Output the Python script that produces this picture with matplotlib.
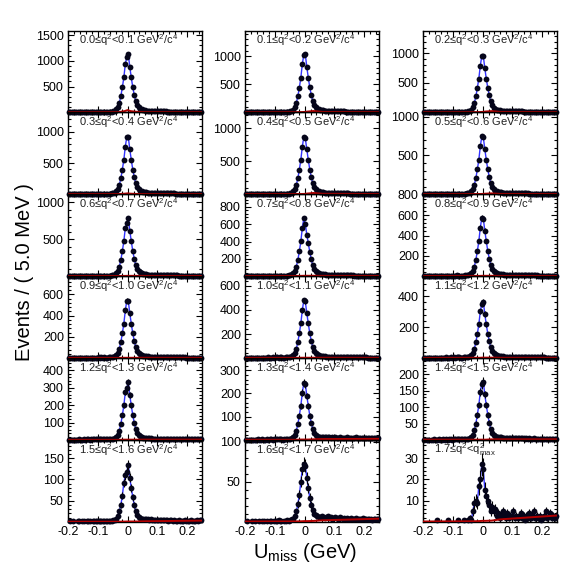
import numpy as np
import matplotlib
matplotlib.use("Agg")
import matplotlib.pyplot as plt
from matplotlib.ticker import AutoMinorLocator, MultipleLocator

plt.rcParams['font.family'] = ['Liberation Sans', 'DejaVu Sans']
plt.rcParams['mathtext.fontset'] = 'custom'
plt.rcParams['mathtext.rm'] = 'Liberation Sans'
plt.rcParams['mathtext.it'] = 'Liberation Sans:italic'

# bin centres of U_miss, 5 MeV bins from -0.2 to 0.25 GeV
u_bins = np.linspace(-0.1975, 0.2475, 90)

q2_labels = [
    r"0.0≤q$^2$<0.1 GeV$^2$/c$^4$", r"0.1≤q$^2$<0.2 GeV$^2$/c$^4$", r"0.2≤q$^2$<0.3 GeV$^2$/c$^4$",
    r"0.3≤q$^2$<0.4 GeV$^2$/c$^4$", r"0.4≤q$^2$<0.5 GeV$^2$/c$^4$", r"0.5≤q$^2$<0.6 GeV$^2$/c$^4$",
    r"0.6≤q$^2$<0.7 GeV$^2$/c$^4$", r"0.7≤q$^2$<0.8 GeV$^2$/c$^4$", r"0.8≤q$^2$<0.9 GeV$^2$/c$^4$",
    r"0.9≤q$^2$<1.0 GeV$^2$/c$^4$", r"1.0≤q$^2$<1.1 GeV$^2$/c$^4$", r"1.1≤q$^2$<1.2 GeV$^2$/c$^4$",
    r"1.2≤q$^2$<1.3 GeV$^2$/c$^4$", r"1.3≤q$^2$<1.4 GeV$^2$/c$^4$", r"1.4≤q$^2$<1.5 GeV$^2$/c$^4$",
    r"1.5≤q$^2$<1.6 GeV$^2$/c$^4$", r"1.6≤q$^2$<1.7 GeV$^2$/c$^4$", r"1.7≤q$^2$<q$^2_{\rm max}$",
]

y_tops = [1590, 1460, 1390, 1310, 1240, 1055, 1110, 945, 805,
          770, 680, 530, 470, 352, 250, 193, 102, 38.5]
y_ticks = [
    [500, 1000, 1500], [500, 1000], [500, 1000],
    [500, 1000], [500, 1000], [500, 1000],
    [500, 1000], [200, 400, 600, 800], [200, 400, 600, 800],
    [200, 400, 600], [200, 400, 600], [200, 400],
    [100, 200, 300, 400], [100, 200, 300], [50, 100, 150, 200],
    [50, 100, 150], [50, 100], [10, 20, 30],
]

# events per bin
c_r1c1 = [6, 5, 7, 6, 5, 8, 6, 7, 5, 6, 7, 8, 6, 7, 9, 8, 7, 9, 8, 10, 9, 8, 10, 9, 11,
          9, 10, 11, 14, 17, 23, 34, 57, 102, 186, 316, 486, 678, 938,
          1075, 1130, 880, 678, 486, 339, 215, 141, 96, 73, 57, 47,
          41, 36, 33, 29, 27, 25, 24, 23, 22, 21, 20, 20, 19, 18, 18,
          17, 17, 16, 16, 15, 15, 14, 14, 13, 13, 13, 12, 12, 12, 11, 11, 11, 10, 10, 10, 10, 9, 9, 9]
c_r1c2 = [5, 6, 5, 7, 6, 5, 7, 6, 8, 6, 7, 7, 8, 6, 8, 9, 7, 8, 9, 8, 9, 10, 9, 10, 10,
          8, 9, 10, 12, 14, 19, 28, 47, 90, 170, 290, 440, 620, 860,
          1030, 1035, 810, 620, 445, 310, 200, 130, 90, 68, 53, 44,
          38, 34, 31, 28, 26, 25, 24, 23, 22, 21, 20, 19, 19, 18, 17,
          17, 16, 16, 15, 15, 14, 14, 13, 13, 13, 12, 12, 11, 11, 11, 10, 10, 10, 9, 9, 9, 9, 8, 8]
c_r1c3 = [5, 6, 5, 6, 7, 5, 6, 7, 6, 8, 7, 6, 8, 7, 8, 7, 9, 8, 8, 9, 10, 9, 9, 10, 10,
          8, 9, 10, 11, 14, 19, 29, 48, 86, 160, 270, 415, 575, 795,
          955, 960, 750, 575, 415, 290, 185, 120, 82, 62, 48, 40,
          35, 31, 28, 26, 24, 23, 22, 21, 20, 19, 19, 18, 17, 17, 16,
          16, 15, 15, 14, 14, 13, 13, 13, 12, 12, 11, 11, 11, 10, 10, 10, 9, 9, 9, 9, 8, 8, 8, 8]
c_r2c1 = [4, 5, 6, 5, 6, 5, 7, 6, 5, 7, 6, 7, 6, 8, 7, 7, 8, 7, 8, 9, 8, 9, 8, 9, 10,
          7, 8, 9, 11, 13, 18, 27, 46, 83, 152, 258, 396, 552, 764,
          920, 915, 718, 552, 396, 276, 175, 115, 78, 60, 46, 39,
          33, 30, 27, 25, 23, 22, 21, 20, 19, 18, 18, 17, 16, 16, 15,
          15, 14, 14, 13, 13, 13, 12, 12, 11, 11, 11, 10, 10, 10, 9, 9, 9, 9, 8, 8, 8, 8, 7, 7]
c_r2c2 = [4, 5, 4, 6, 5, 6, 5, 7, 6, 5, 7, 6, 7, 6, 7, 8, 7, 8, 7, 8, 9, 8, 9, 8, 9,
          7, 8, 9, 10, 12, 17, 26, 43, 78, 144, 244, 374, 522, 722,
          870, 850, 680, 522, 374, 261, 165, 109, 74, 57, 44, 37,
          31, 28, 26, 24, 22, 21, 20, 19, 18, 17, 17, 16, 15, 15, 14,
          14, 14, 13, 13, 12, 12, 12, 11, 11, 10, 10, 10, 10, 9, 9, 9, 8, 8, 8, 8, 7, 7, 7, 7]
c_r2c3 = [3, 4, 4, 5, 4, 5, 6, 5, 4, 6, 5, 6, 5, 6, 7, 6, 7, 6, 7, 6, 7, 8, 7, 8, 8,
          6, 7, 8, 9, 11, 15, 22, 37, 67, 123, 209, 320, 447, 618,
          745, 735, 581, 447, 320, 224, 142, 93, 63, 48, 37, 31,
          27, 24, 22, 20, 19, 18, 17, 16, 16, 15, 14, 14, 13, 13, 12,
          12, 12, 11, 11, 11, 10, 10, 10, 9, 9, 9, 9, 8, 8, 8, 8, 7, 7, 7, 7, 6, 6, 6, 6]
c_r3c1 = [3, 4, 5, 4, 5, 4, 6, 5, 5, 6, 5, 6, 7, 5, 6, 7, 6, 7, 6, 7, 8, 7, 8, 7, 8,
          6, 7, 8, 9, 11, 15, 23, 39, 71, 130, 221, 340, 474, 656,
          718, 790, 616, 474, 340, 237, 150, 99, 67, 51, 40, 33,
          28, 25, 23, 21, 20, 19, 18, 17, 16, 16, 15, 14, 14, 13, 13,
          12, 12, 12, 11, 11, 10, 10, 10, 9, 9, 9, 9, 8, 8, 8, 8, 7, 7, 7, 7, 6, 6, 6, 6]
c_r3c2 = [3, 3, 4, 3, 4, 5, 4, 5, 4, 5, 6, 5, 5, 6, 5, 6, 6, 7, 6, 6, 7, 6, 7, 7, 7,
          5, 6, 7, 8, 10, 13, 20, 34, 60, 111, 188, 288, 402, 556,
          670, 600, 480, 380, 280, 195, 125, 82, 56, 43, 33, 28,
          24, 22, 20, 18, 17, 16, 15, 15, 14, 13, 13, 12, 12, 11, 11,
          11, 10, 10, 10, 9, 9, 9, 8, 8, 8, 8, 7, 7, 7, 7, 7, 6, 6, 6, 6, 6, 5, 5, 5]
c_r3c3 = [2, 3, 3, 4, 3, 4, 3, 4, 5, 4, 4, 5, 4, 5, 5, 6, 5, 5, 6, 5, 6, 6, 7, 6, 6,
          5, 5, 6, 7, 9, 12, 17, 29, 52, 95, 161, 247, 345, 477,
          575, 565, 449, 345, 247, 173, 109, 72, 49, 37, 29, 24,
          21, 18, 17, 15, 14, 14, 13, 12, 12, 11, 11, 10, 10, 10, 9,
          9, 9, 9, 8, 8, 8, 8, 7, 7, 7, 7, 6, 6, 6, 6, 6, 6, 5, 5, 5, 5, 5, 5, 4]
c_r4c1 = [2, 3, 2, 3, 4, 3, 4, 3, 4, 3, 4, 5, 4, 4, 5, 4, 5, 5, 4, 5, 6, 5, 6, 5, 6,
          4, 5, 6, 7, 8, 11, 16, 27, 49, 89, 151, 232, 324, 448,
          540, 535, 421, 324, 232, 162, 103, 68, 46, 35, 27, 23,
          19, 17, 16, 14, 13, 13, 12, 12, 11, 11, 10, 10, 9, 9, 9,
          8, 8, 8, 8, 7, 7, 7, 7, 6, 6, 6, 6, 6, 5, 5, 5, 5, 5, 5, 4, 4, 4, 4, 4]
c_r4c2 = [2, 2, 3, 2, 3, 3, 4, 3, 3, 4, 3, 4, 4, 3, 4, 5, 4, 4, 5, 4, 5, 5, 4, 5, 5,
          4, 4, 5, 6, 7, 10, 14, 24, 43, 79, 134, 206, 288, 398,
          480, 470, 374, 288, 206, 144, 91, 60, 41, 31, 24, 20,
          17, 15, 14, 13, 12, 11, 11, 10, 10, 10, 9, 9, 8, 8, 8,
          7, 7, 7, 7, 7, 6, 6, 6, 6, 6, 5, 5, 5, 5, 5, 5, 4, 4, 4, 4, 4, 4, 4, 3]
c_r4c3 = [1, 2, 1, 2, 2, 3, 2, 2, 3, 2, 3, 3, 2, 3, 3, 4, 3, 3, 4, 3, 4, 3, 4, 4, 4,
          3, 3, 4, 4, 5, 7, 11, 18, 33, 60, 102, 157, 219, 303,
          350, 365, 285, 219, 157, 110, 69, 46, 31, 24, 18, 15,
          13, 12, 11, 10, 9, 9, 8, 8, 8, 7, 7, 7, 6, 6, 6,
          6, 6, 5, 5, 5, 5, 5, 5, 4, 4, 4, 4, 4, 4, 4, 4, 3, 3, 3, 3, 3, 3, 3, 3]
c_r5c1 = [1, 2, 1, 2, 1, 2, 2, 3, 2, 2, 3, 2, 3, 3, 2, 3, 3, 4, 3, 3, 4, 3, 4, 3, 4,
          3, 3, 3, 4, 5, 7, 10, 17, 30, 54, 92, 142, 198, 274,
          300, 330, 257, 198, 142, 99, 63, 41, 28, 21, 17, 14,
          12, 11, 10, 9, 9, 8, 8, 7, 7, 7, 7, 6, 6, 6, 6,
          5, 5, 5, 5, 5, 5, 4, 4, 4, 4, 4, 4, 4, 4, 3, 3, 3, 3, 3, 3, 3, 3, 3, 3]
c_r5c2 = [1, 1, 2, 1, 2, 2, 1, 2, 3, 2, 2, 3, 2, 2, 3, 2, 3, 3, 2, 3, 3, 4, 3, 3, 4,
          2, 3, 3, 4, 4, 5, 8, 13, 22, 40, 69, 105, 147, 203,
          245, 240, 190, 147, 105, 74, 47, 31, 22, 18, 15, 14,
          13, 12, 12, 11, 12, 11, 10, 11, 10, 12, 10, 9, 11, 10, 9,
          10, 9, 11, 9, 8, 10, 9, 8, 12, 9, 8, 9, 8, 10, 7, 8, 9, 7, 8, 7, 9, 7, 8, 7]
c_r5c3 = [1, 0, 1, 1, 0, 1, 1, 2, 1, 1, 2, 1, 1, 2, 1, 2, 1, 2, 2, 1, 2, 2, 2, 2, 2,
          2, 2, 2, 3, 3, 4, 5, 9, 16, 29, 50, 77, 107, 148,
          170, 178, 139, 107, 77, 53, 34, 22, 15, 12, 10, 9,
          8, 8, 7, 7, 7, 6, 6, 6, 6, 6, 5, 5, 6, 5, 5,
          5, 5, 4, 5, 4, 5, 4, 4, 5, 4, 4, 4, 3, 4, 4, 3, 4, 3, 3, 4, 3, 3, 3, 3]
c_r6c1 = [0, 1, 0, 1, 0, 0, 1, 1, 0, 1, 1, 0, 1, 1, 1, 0, 1, 2, 1, 1, 1, 2, 1, 1, 2,
          1, 2, 2, 3, 2, 4, 5, 8, 14, 25, 40, 62, 92, 110,
          118, 135, 104, 80, 58, 40, 26, 17, 12, 10, 8, 7,
          7, 6, 6, 5, 6, 5, 5, 4, 5, 5, 4, 4, 5, 4, 4,
          4, 3, 4, 4, 3, 4, 3, 3, 4, 3, 3, 3, 4, 3, 3, 3, 4, 3, 3, 3, 4, 3, 4, 5]
c_r6c2 = [0, 1, 0, 0, 1, 0, 1, 0, 0, 1, 0, 1, 1, 0, 1, 0, 1, 1, 0, 1, 1, 1, 2, 1, 1,
          0, 1, 1, 2, 1, 2, 3, 4, 7, 13, 22, 34, 50, 66,
          72, 70, 55, 42, 30, 21, 15, 10, 8, 7, 6, 6,
          7, 6, 5, 6, 7, 5, 6, 4, 5, 6, 5, 4, 6, 5, 4,
          5, 4, 5, 3, 4, 5, 4, 3, 5, 4, 3, 4, 3, 5, 3, 4, 3, 4, 3, 2, 4, 3, 3, 4]
c_r6c3 = [0, 0, 0, 0, 0, 0, 0, 0, 0, 1, 0, 0, 0, 0, 0, 0, 1, 0, 0, 0, 0, 0, 0, 1, 0,
          0, 0, 1, 0, 0, 1, 2, 1, 5, 9, 10, 9, 17, 20,
          27, 25, 15, 12, 10, 8, 5, 7, 5, 6, 3, 4,
          2, 3, 5, 3, 2, 4, 2, 3, 3, 5, 2, 3, 2, 3, 4,
          2, 3, 1, 3, 2, 4, 2, 3, 5, 2, 3, 2, 3, 1, 2, 3, 5, 2, 3, 4, 2, 3, 2, 3]

counts = [c_r1c1, c_r1c2, c_r1c3, c_r2c1, c_r2c2, c_r2c3,
          c_r3c1, c_r3c2, c_r3c3, c_r4c1, c_r4c2, c_r4c3,
          c_r5c1, c_r5c2, c_r5c3, c_r6c1, c_r6c2, c_r6c3]

# background component (red), read at a few U_miss points
bkg_u = [-0.2, -0.03, -0.01, 0.0, 0.01, 0.03, 0.06, 0.25]
bkg = [
    [3, 5, 25, 45, 25, 12, 6, 4], [3, 4, 6, 8, 15, 25, 8, 4], [3, 4, 6, 8, 15, 22, 8, 4],
    [3, 4, 10, 15, 10, 6, 4, 3], [3, 4, 5, 6, 12, 20, 8, 4], [3, 3, 4, 5, 8, 12, 5, 3],
    [2, 3, 4, 5, 5, 5, 4, 3], [2, 3, 4, 5, 5, 5, 4, 3], [2, 3, 3, 4, 4, 4, 3, 2],
    [2, 2, 3, 3, 3, 3, 3, 2], [2, 2, 3, 3, 3, 3, 3, 2], [1, 2, 2, 3, 3, 3, 2, 2],
    [1, 1, 2, 2, 2, 2, 2, 2], [1, 1, 2, 2, 2, 3, 4, 5], [1, 1, 1, 1, 1, 2, 2, 2],
    [0.5, 0.5, 0.8, 1, 1, 1, 1.5, 3], [0.5, 0.6, 0.8, 1, 1, 1.2, 2, 4], [0.2, 0.3, 0.4, 0.5, 0.5, 0.6, 1.2, 3],
]

W, H = 573, 578
fig = plt.figure(figsize=(W / 100, H / 100), dpi=100)

col_left = [68, 245, 423]
pw, ph = 134, 81.9
top0 = 30.5

for idx in range(18):
    r, c = divmod(idx, 3)
    top = top0 + r * ph
    ax = fig.add_axes([col_left[c] / W, 1 - (top + ph) / H, pw / W, ph / H])

    y = np.array(counts[idx], dtype=float)
    m = y > 0

    ax.plot(u_bins, y, color='#3333ff', lw=1.0, zorder=2)
    ax.vlines(u_bins[m], y[m] - np.sqrt(y[m]), y[m] + np.sqrt(y[m]),
              color='black', lw=0.8, zorder=3, clip_on=False)
    ax.plot(u_bins[m], y[m], 'o', color='#05051a', ms=4.2, mew=0, zorder=3, clip_on=False)
    ax.plot(bkg_u, bkg[idx], color='#b00000', lw=1.4, zorder=4)

    ax.set_xlim(-0.2, 0.25)
    ax.set_ylim(0, y_tops[idx])
    ax.set_yticks(y_ticks[idx])
    ax.set_yticklabels([str(t) for t in y_ticks[idx]])
    ax.yaxis.set_minor_locator(AutoMinorLocator(5))
    ax.set_xticks([-0.2, -0.1, 0, 0.1, 0.2])
    ax.xaxis.set_minor_locator(MultipleLocator(0.02))
    if r == 5:
        ax.set_xticklabels(['-0.2', '-0.1', '0', '0.1', '0.2'])
    else:
        ax.set_xticklabels([])

    ax.tick_params(which='both', direction='in', top=True, right=True,
                   width=0.8, labelsize=9, pad=3)
    ax.tick_params(which='major', length=4)
    ax.tick_params(which='minor', length=2)
    for s in ax.spines.values():
        s.set_linewidth(1.0)
    ax.set_facecolor('none')

    ax.text(0.08, 0.88, q2_labels[idx], transform=ax.transAxes,
            fontsize=8, ha='left', va='center', color='#222222', zorder=5)

fig.text(25 / W, 1 - 272 / H, "Events / ( 5.0 MeV )", rotation=90,
         fontsize=14.5, ha='center', va='center')
fig.text(305 / W, 1 - 553 / H, r"U$_{\rm miss}$ (GeV)",
         fontsize=14.5, ha='center', va='center')

fig.savefig("out.png", dpi=100)
